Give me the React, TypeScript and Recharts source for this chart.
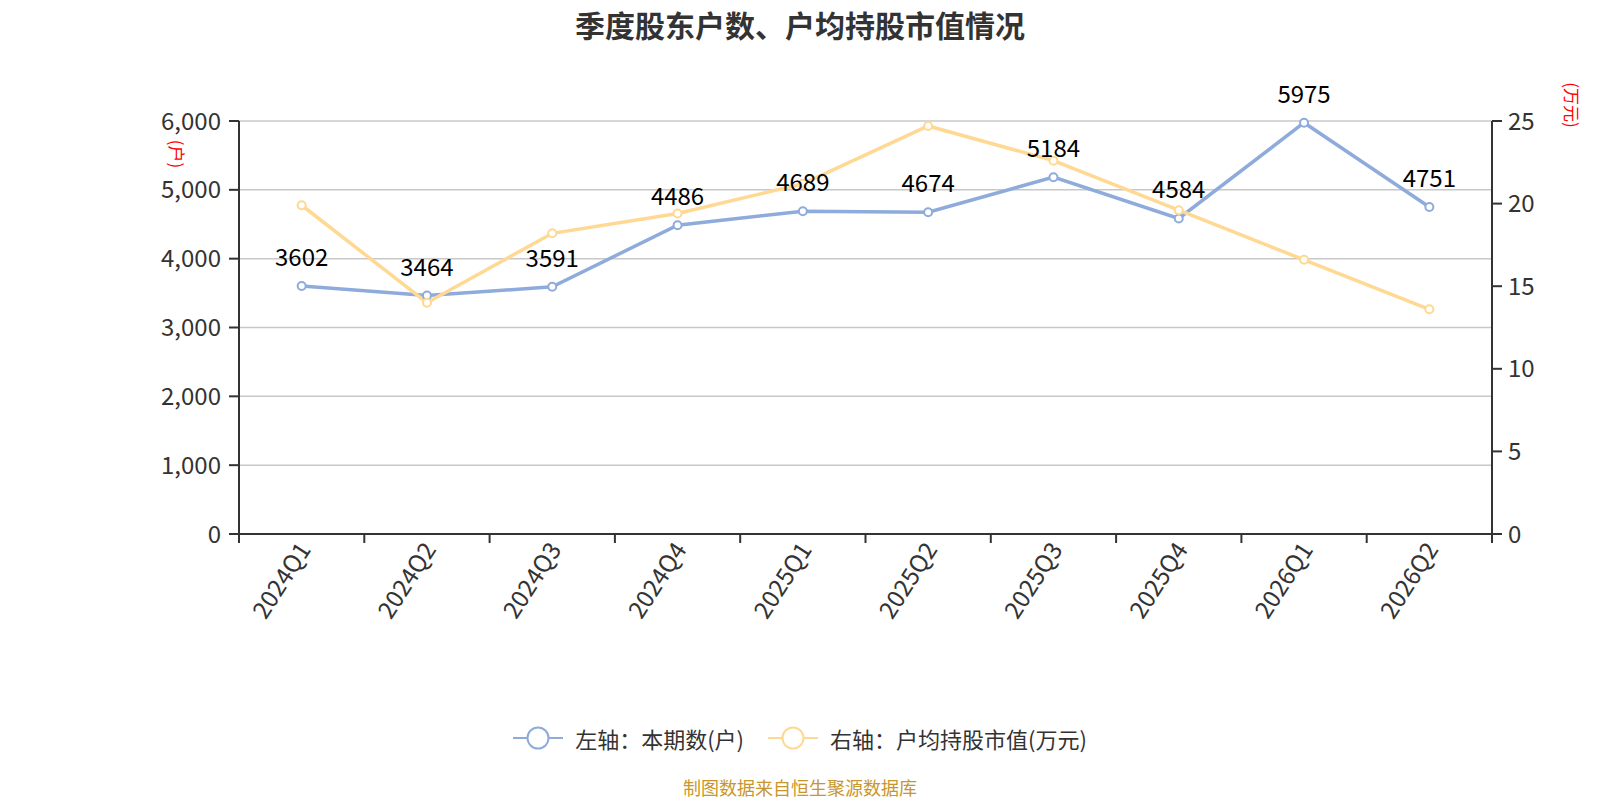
import React from 'react';
import { LineChart, Line, XAxis, YAxis, CartesianGrid, LabelList } from 'recharts';

const categories = ['2024Q1', '2024Q2', '2024Q3', '2024Q4', '2025Q1', '2025Q2', '2025Q3', '2025Q4', '2026Q1', '2026Q2'];
const holders = [3602, 3464, 3591, 4486, 4689, 4674, 5184, 4584, 5975, 4751];
const avgValue = [19.9, 14.0, 18.2, 19.4, 21.2, 24.7, 22.6, 19.6, 16.6, 13.6];
const leftTicks = [0, 1000, 2000, 3000, 4000, 5000, 6000];
const rightTicks = [0, 5, 10, 15, 20, 25];

const seriesNames = ['左轴：本期数(户)', '右轴：户均持股市值(万元)'];
const titleText = '季度股东户数、户均持股市值情况';
const sourceText = '制图数据来自恒生聚源数据库';

const data = categories.map((c, i) => ({ name: c, holders: holders[i], avg: avgValue[i] }));

const W = 1600;
const H = 800;
const LEFT_W = 239;
const RIGHT_W = 108;
const TOP = 121;
const X_H = 110;
const BOTTOM = 800 - 534 - X_H;
const BAND = (W - LEFT_W - RIGHT_W) / categories.length;
const FONT = '"Noto Sans CJK SC", "Noto Sans", sans-serif';
const BLUE = '#8eabdb';
const ORANGE = '#ffd993';
const AXIS = '#333333';
const seriesColors = [BLUE, ORANGE];

const fmt = (v: number) => v.toLocaleString('en-US');

const XTick = (props: any) => {
  const { x, y, payload, index } = props;
  const axisY = y - 10;
  const ax = x + 3;
  const ay = axisY + 11;
  return (
    <g>
      <line x1={x - BAND / 2} y1={axisY} x2={x - BAND / 2} y2={axisY + 9} stroke={AXIS} strokeWidth={2} />
      {index === categories.length - 1 && (
        <line x1={x + BAND / 2} y1={axisY} x2={x + BAND / 2} y2={axisY + 9} stroke={AXIS} strokeWidth={2} />
      )}
      <text
        x={ax}
        y={ay}
        transform={`rotate(-57, ${ax}, ${ay})`}
        textAnchor="end"
        dy="0.35em"
        fill={AXIS}
        fontSize={24}
        fontFamily={FONT}
      >
        {payload.value}
      </text>
    </g>
  );
};

export default function App() {
  return (
    <div style={{ position: 'absolute', left: 0, top: 0, width: W, height: H, background: '#fff', fontFamily: FONT }}>
      <div
        style={{
          position: 'absolute', left: 0, top: 4, width: W, textAlign: 'center',
          fontSize: 30, fontWeight: 'bold', color: '#333', lineHeight: '40px',
        }}
      >
        {titleText}
      </div>
      <div
        style={{
          position: 'absolute', left: 160, top: 136, width: 36, height: 36, display: 'flex',
          alignItems: 'center', justifyContent: 'center', transform: 'rotate(90deg)',
          color: 'red', fontSize: 17, whiteSpace: 'nowrap',
        }}
      >
        (户)
      </div>
      <div
        style={{
          position: 'absolute', left: 1543, top: 87, width: 60, height: 36, display: 'flex',
          alignItems: 'center', justifyContent: 'center', transform: 'rotate(90deg)',
          color: 'red', fontSize: 17, whiteSpace: 'nowrap',
        }}
      >
        (万元)
      </div>
      <LineChart width={W} height={H} data={data} margin={{ top: TOP, right: 0, bottom: BOTTOM, left: 0 }}>
        <CartesianGrid yAxisId="left" vertical={false} stroke="#c8c8c8" strokeWidth={1.5} />
        <XAxis
          dataKey="name"
          height={X_H}
          interval={0}
          padding={{ left: BAND / 2, right: BAND / 2 }}
          tickLine={false}
          tickSize={8}
          tickMargin={2}
          axisLine={{ stroke: AXIS, strokeWidth: 2 }}
          tick={<XTick />}
        />
        <YAxis
          yAxisId="left"
          width={LEFT_W}
          domain={[0, 6000]}
          ticks={leftTicks}
          tickFormatter={fmt}
          axisLine={{ stroke: AXIS, strokeWidth: 2 }}
          tickLine={{ stroke: AXIS, strokeWidth: 2 }}
          tickSize={10}
          tickMargin={8}
          tick={{ fill: AXIS, fontSize: 24, fontFamily: FONT }}
        />
        <YAxis
          yAxisId="right"
          orientation="right"
          width={RIGHT_W}
          domain={[0, 25]}
          ticks={rightTicks}
          axisLine={{ stroke: AXIS, strokeWidth: 2 }}
          tickLine={{ stroke: AXIS, strokeWidth: 2 }}
          tickSize={10}
          tickMargin={6}
          tick={{ fill: AXIS, fontSize: 24, fontFamily: FONT }}
        />
        <Line
          yAxisId="left"
          type="linear"
          dataKey="holders"
          name={seriesNames[0]}
          stroke={BLUE}
          strokeWidth={3.5}
          dot={{ r: 4, fill: '#fff', stroke: BLUE, strokeWidth: 2 }}
          isAnimationActive={false}
        >
          <LabelList dataKey="holders" position="top" offset={20} fill="#000" fontSize={24} fontFamily={FONT} />
        </Line>
        <Line
          yAxisId="right"
          type="linear"
          dataKey="avg"
          name={seriesNames[1]}
          stroke={ORANGE}
          strokeWidth={3.5}
          dot={{ r: 4, fill: '#fff', stroke: ORANGE, strokeWidth: 2 }}
          isAnimationActive={false}
        />
      </LineChart>
      <div
        style={{
          position: 'absolute', left: 0, top: 722, width: W, display: 'flex', justifyContent: 'center',
          alignItems: 'center', fontSize: 22, color: '#333', lineHeight: '32px',
        }}
      >
        {seriesNames.map((n, i) => (
          <div key={i} style={{ display: 'flex', alignItems: 'center', marginRight: i === 0 ? 24 : 0 }}>
            <svg width={50} height={26} style={{ marginRight: 12 }}>
              <line x1={0} y1={13} x2={50} y2={13} stroke={seriesColors[i]} strokeWidth={2} />
              <circle cx={25} cy={13} r={10.5} fill="#fff" stroke={seriesColors[i]} strokeWidth={2} />
            </svg>
            <span>{n}</span>
          </div>
        ))}
      </div>
      <div
        style={{
          position: 'absolute', left: 0, top: 776, width: W, textAlign: 'center',
          fontSize: 18, color: '#c8962c', lineHeight: '22px',
        }}
      >
        {sourceText}
      </div>
    </div>
  );
}
